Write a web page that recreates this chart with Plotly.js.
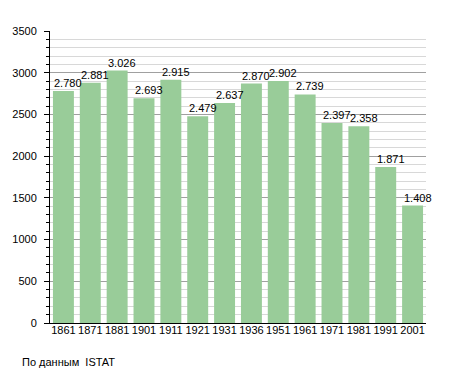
<!DOCTYPE html>
<html>
<head>
<meta charset="utf-8">
<script src="https://cdn.plot.ly/plotly-3.0.1.min.js"></script>
<style>html,body{margin:0;padding:0;background:#fff;}#chart{width:455px;height:373px;}</style>
</head>
<body>
<div id="chart"></div>
<script>
const years = ["1861","1871","1881","1901","1911","1921","1931","1936","1951","1961","1971","1981","1991","2001"];
const population = [2780,2881,3026,2693,2915,2479,2637,2870,2902,2739,2397,2358,1871,1408];
const yTicks = [0,500,1000,1500,2000,2500,3000,3500];
const sourceNote = "По данным  ISTAT";

function fmt(v){ return String(v).replace(/\B(?=(\d{3})+(?!\d))/g, "."); }

const font = {family: "Liberation Sans, Arial, sans-serif", size: 11, color: "#000"};

const trace = {
  type: "bar",
  x: years,
  y: population,
  marker: {color: "#99cc99", line: {width: 0}},
  hoverinfo: "skip"
};

const annotations = years.map((yr, i) => ({
  x: i, y: population[i], xref: "x", yref: "y",
  text: fmt(population[i]), showarrow: false,
  xanchor: "left", yanchor: "bottom", xshift: -11, yshift: 0,
  font: font
}));
annotations.push({
  xref: "paper", yref: "paper", x: -0.08, y: -0.135,
  xanchor: "left", yanchor: "middle", showarrow: false,
  text: sourceNote, font: font
});

const layout = {
  width: 455, height: 373,
  margin: {l: 50, r: 29, t: 31, b: 50},
  paper_bgcolor: "#fff", plot_bgcolor: "#fff",
  bargap: 0.22,
  showlegend: false,
  font: font,
  xaxis: {
    type: "category",
    categoryorder: "array", categoryarray: years,
    range: [-0.5, years.length - 0.5],
    showgrid: false, zeroline: false,
    showline: true, linecolor: "#000", linewidth: 1,
    ticks: "", tickfont: font, ticklabelstandoff: -3
  },
  yaxis: {
    range: [0, 3500], tickvals: yTicks, ticktext: yTicks.map(String),
    showgrid: true, gridcolor: "#a0a0a0", gridwidth: 1,
    zeroline: false,
    showline: true, linecolor: "#000", linewidth: 1,
    ticks: "outside", ticklen: 5, tickcolor: "#000", tickwidth: 1,
    tickfont: font, ticklabelstandoff: 5,
    minor: {dtick: 100, ticks: "outside", ticklen: 3, tickcolor: "#000", showgrid: true, gridcolor: "#d8d8d8", gridwidth: 1}
  },
  annotations: annotations
};

Plotly.newPlot("chart", [trace], layout, {displayModeBar: false, staticPlot: true});
</script>
</body>
</html>
